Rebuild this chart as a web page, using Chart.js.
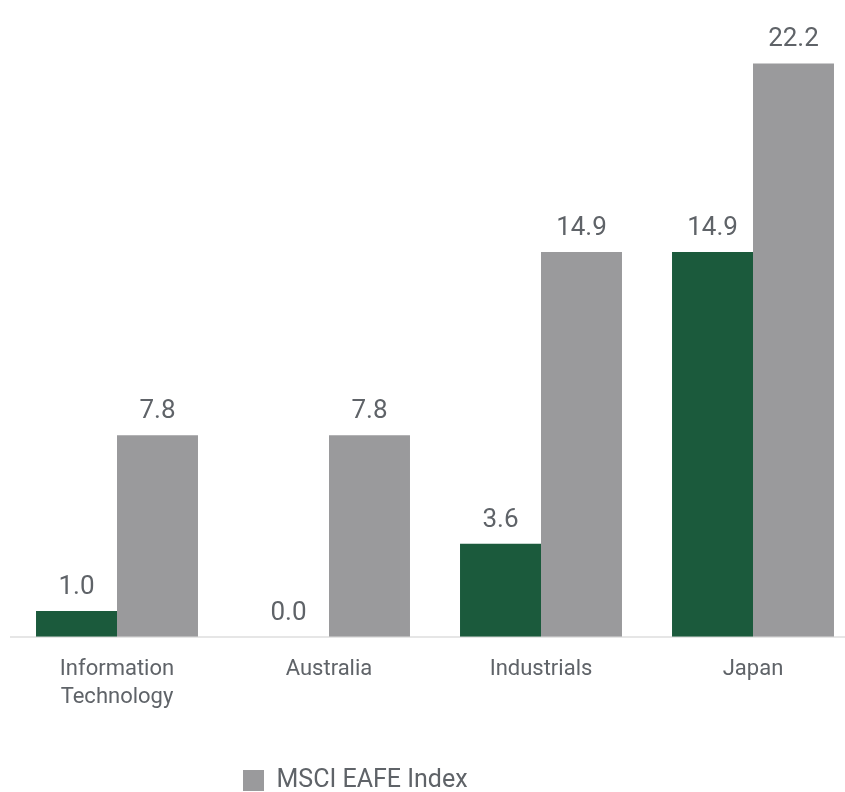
<!DOCTYPE html>
<html>
<head>
<meta charset="utf-8">
<script src="https://cdn.jsdelivr.net/npm/chart.js@4/dist/chart.umd.min.js"></script>
<style>
  html, body { margin: 0; padding: 0; background: #fff; overflow: hidden; }
  #wrap { width: 859px; height: 803px; }
</style>
</head>
<body>
<div id="wrap"><canvas id="myChart"></canvas></div>
<script>
const categories = [['Information', 'Technology'], 'Australia', 'Industrials', 'Japan'];
const portfolioValues = [1.0, 0.0, 3.6, 14.9];
const indexValues = [7.8, 7.8, 14.9, 22.2];
const seriesNames = ['Portfolio', 'MSCI EAFE Index'];

const textColor = '#5f6368';
Chart.defaults.font.family = 'Roboto';

// value above every bar
const valueLabels = {
  id: 'valueLabels',
  afterDatasetsDraw(chart) {
    const c = chart.ctx;
    c.save();
    c.font = '26px Roboto';
    c.fillStyle = textColor;
    c.textAlign = 'center';
    c.textBaseline = 'alphabetic';
    chart.data.datasets.forEach((ds, i) => {
      chart.getDatasetMeta(i).data.forEach((bar, j) => {
        c.fillText(ds.data[j].toFixed(1), bar.x, bar.y - 17);
      });
    });
    c.restore();
  }
};

// legend sits left of centre in the reference
const legendShift = {
  id: 'legendShift',
  afterLayout(chart) {
    chart.legend.left = 243 - chart.options.plugins.legend.labels.padding;
  }
};

new Chart(document.getElementById('myChart'), {
  type: 'bar',
  data: {
    labels: categories,
    datasets: [{
      label: seriesNames[0],
      data: portfolioValues,
      backgroundColor: '#1b5a3c',
      borderWidth: 0
    }, {
      label: seriesNames[1],
      data: indexValues,
      backgroundColor: '#9a9a9c',
      borderWidth: 0
    }]
  },
  options: {
    responsive: true,
    maintainAspectRatio: false,
    animation: false,
    layout: {
      padding: { top: 17, left: 11, right: 0, bottom: 0 }
    },
    datasets: {
      bar: { categoryPercentage: 0.764, barPercentage: 1 }
    },
    plugins: {
      legend: {
        position: 'bottom',
        align: 'start',
        labels: {
          filter: item => item.datasetIndex === 1,
          boxWidth: 21,
          boxHeight: 21,
          padding: 38,
          color: textColor,
          font: { size: 25 }
        }
      },
      tooltip: { enabled: false }
    },
    scales: {
      x: {
        grid: { display: false, drawTicks: false },
        border: { display: true, color: '#e6e6e6', width: 2 },
        ticks: {
          color: textColor,
          padding: 18,
          font: { size: 22, lineHeight: 1.3 },
          maxRotation: 0
        }
      },
      y: {
        display: false,
        min: 0,
        max: 24
      }
    }
  },
  plugins: [valueLabels, legendShift]
});
</script>
</body>
</html>
